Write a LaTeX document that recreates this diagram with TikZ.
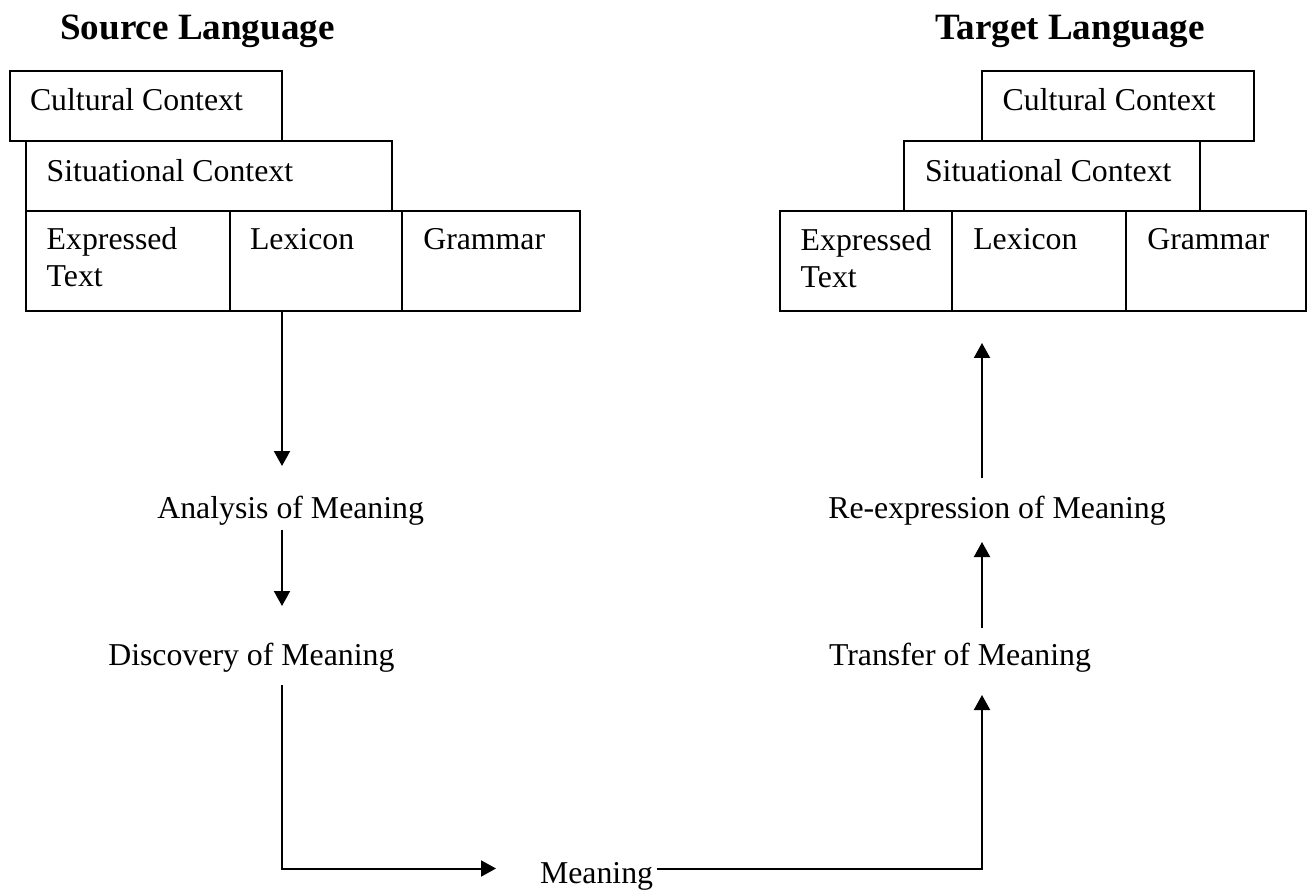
\documentclass[tikz,border=0pt]{standalone}
\usepackage{fontspec}
\setmainfont{Liberation Serif}
\usetikzlibrary{arrows.meta,calc}
\newcommand\mybox[5]{\node[box, anchor=north west, minimum width={(#4-#2)*0.5pt}, minimum height={(#5-#3)*0.5pt}] (#1) at (#2,#3) {};}
\begin{document}
\begin{tikzpicture}[x=0.5pt,y=-0.5pt,
  box/.style={draw, line width=1pt, rectangle, inner sep=0pt, outer sep=0pt},
  lbl/.style={inner sep=0pt, outer sep=0pt, font=\fontsize{15.9}{18.5}\selectfont, align=left},
  ttl/.style={inner sep=0pt, outer sep=0pt, font=\fontsize{18.55}{22}\selectfont\bfseries},
  arr/.style={line width=1pt, -{Triangle[length=7.5pt,width=8pt]}},
  ln/.style={line width=1pt}]
\useasboundingbox (0,0) rectangle (1307,893);
% titles
\node[ttl, anchor=base] (srcT) at (197.5,39.5) {Source Language};
\node[ttl, anchor=base] (tgtT) at (1070,39.5) {Target Language};
% source boxes
\mybox{sCult}{9.5}{71}{282}{141}
\mybox{sSit}{26}{141}{392}{211}
\mybox{sExp}{26}{211}{230}{311}
\mybox{sLex}{230}{211}{402}{311}
\mybox{sGram}{402}{211}{580}{311}
\node[lbl, anchor=base west] (sCultL) at (30,111) {Cultural Context};
\node[lbl, anchor=base west] (sSitL) at (46.7,181.7) {Situational Context};
\node[lbl, anchor=base west] (sExpL) at (46.7,287) {Expressed\\Text};
\node[lbl, anchor=base west] (sLexL) at (250,250) {Lexicon};
\node[lbl, anchor=base west] (sGramL) at (423.3,250) {Grammar};
% target boxes
\mybox{tCult}{982}{71}{1254}{141}
\mybox{tSit}{904}{141}{1200}{211}
\mybox{tExp}{780}{211}{952}{311}
\mybox{tLex}{952}{211}{1126}{311}
\mybox{tGram}{1126}{211}{1306}{311}
\node[lbl, anchor=base west] (tCultL) at (1002.7,110.5) {Cultural Context};
\node[lbl, anchor=base west] (tSitL) at (925,181.7) {Situational Context};
\node[lbl, anchor=base west] (tExpL) at (800.7,287.5) {Expressed\\Text};
\node[lbl, anchor=base west] (tLexL) at (973.3,250) {Lexicon};
\node[lbl, anchor=base west] (tGramL) at (1147.3,250) {Grammar};
% process labels
\node[lbl, anchor=base west] (analysis) at (157.3,518.3) {Analysis of Meaning};
\node[lbl, anchor=base west] (discovery) at (108.3,665) {Discovery of Meaning};
\node[lbl, anchor=base west] (meaning) at (540,883) {Meaning};
\node[lbl, anchor=base west] (transfer) at (829,665) {Transfer of Meaning};
\node[lbl, anchor=base west] (reexp) at (828.3,518.3) {Re-expression of Meaning};
% connector end points
\coordinate (a1s) at ($(sLex.south west)+(52,0)$);
\coordinate (a1e) at (282,466);
\coordinate (a2s) at (282,530);
\coordinate (a2e) at (282,606);
\coordinate (a3s) at (282,685);
\coordinate (a3c) at (282,868.5);
\coordinate (a3e) at (496,868.5);
\coordinate (a4s) at (657,868.5);
\coordinate (a4c) at (982,868.5);
\coordinate (a4e) at (982,695);
\coordinate (a5s) at (982,628);
\coordinate (a5e) at (982,542);
\coordinate (a6s) at (982,478);
\coordinate (a6e) at ($(tExp.south east)+(30,32)$);
% connectors
\draw[arr] (a1s) -- (a1e);
\draw[arr] (a2s) -- (a2e);
\draw[arr] (a3s) -- (a3c) -- (a3e);
\draw[arr] (a4s) -- (a4c) -- (a4e);
\draw[arr] (a5s) -- (a5e);
\draw[arr] (a6s) -- (a6e);
\end{tikzpicture}
\end{document}
